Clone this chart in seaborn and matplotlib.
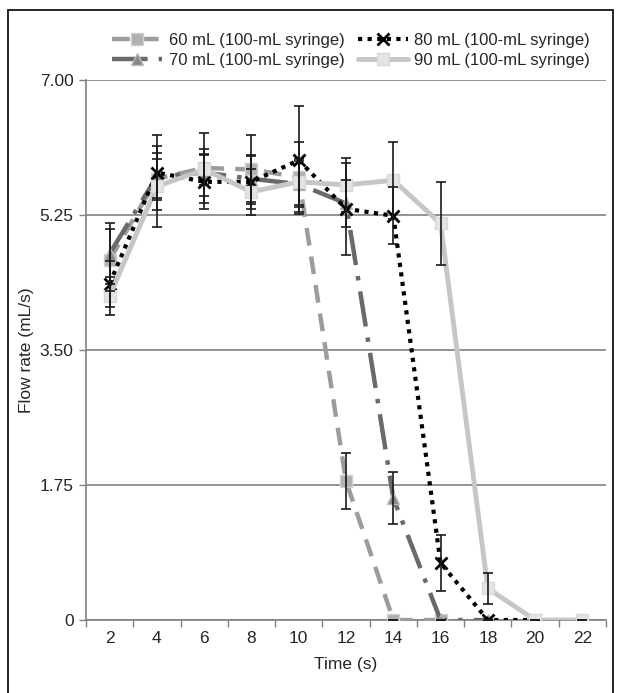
import numpy as np
import pandas as pd
import matplotlib
matplotlib.use("Agg")
import matplotlib.pyplot as plt
import seaborn as sns
from matplotlib.patches import Rectangle

time = [2, 4, 6, 8, 10, 12, 14, 16, 18, 20, 22]
nan = np.nan
flow_60 = [4.67, 5.72, 5.86, 5.84, 5.74, 1.80, 0.0, 0.0, nan, nan, nan]
flow_70 = [4.75, 5.75, 5.80, 5.72, 5.65, 5.40, 1.58, 0.0, 0.0, nan, nan]
flow_80 = [4.36, 5.80, 5.68, 5.68, 5.96, 5.33, 5.24, 0.74, 0.0, 0.0, nan]
flow_90 = [4.20, 5.62, 5.84, 5.55, 5.68, 5.64, 5.70, 5.14, 0.41, 0.0, 0.0]
err_60 = [0.40, 0.25, 0.45, 0.45, 0.45, 0.36, 0, 0, nan, nan, nan]
err_70 = [0.40, 0.30, 0.30, 0.30, 0.30, 0.30, 0.34, 0, 0, nan, nan]
err_80 = [0.30, 0.49, 0.35, 0.35, 0.70, 0.60, 0.37, 0.36, 0, 0, nan]
err_90 = [0.25, 0.53, 0.20, 0.30, 0.30, 0.35, 0.50, 0.54, 0.20, 0, 0]
labels = ["60 mL (100-mL syringe)", "70 mL (100-mL syringe)",
          "80 mL (100-mL syringe)", "90 mL (100-mL syringe)"]
y_ticks = [0, 1.75, 3.50, 5.25, 7.00]
y_ticklabels = ["0", "1.75", "3.50", "5.25", "7.00"]

sns.set_theme(style="white")
plt.rcParams['font.family'] = ['Liberation Sans', 'DejaVu Sans']

fig = plt.figure(figsize=(6.21, 6.93), dpi=100)
ax = fig.add_axes([0.1385, 0.1053, 0.8374, 0.7793])

series = [flow_60, flow_70, flow_80, flow_90]
errs = [err_60, err_70, err_80, err_90]
colors = ["#9c9c9c", "#6a6a6a", "#000000", "#c6c6c6"]
markers = ["s", "^", "x", "s"]
mfc = ["#b0b0b0", "#888888", "#000000", "#e4e4e4"]
mec = ["#d0d0d0", "#bbbbbb", "#000000", "#d8d8d8"]
mew = [1.0, 1.0, 2.0, 1.0]
dashes = [(4, 2.5), (8, 2.5, 1, 2.5), (1, 1.3), ""]
lws = [3.2, 3.2, 3.0, 3.5]

for vals, err, col, mk, fc, ec, ew, ds, lw, lab in zip(series, errs, colors, markers, mfc, mec, mew,
                                                      dashes, lws, labels):
    df = pd.DataFrame({"time": time, "flow": vals}).dropna()
    ax.errorbar(df["time"], df["flow"], yerr=np.array(err)[~np.isnan(vals)],
                fmt="none", ecolor="#1a1a1a", elinewidth=1.2, capsize=3.5,
                capthick=1.2, zorder=4)
    sns.lineplot(data=df, x="time", y="flow", ax=ax, color=col, lw=lw,
                 marker=mk, markersize=8, markerfacecolor=fc,
                 markeredgecolor=ec, markeredgewidth=ew,
                 label=lab, zorder=3, dashes=False)
    line = ax.get_lines()[-1]
    if ds:
        line.set_dashes(ds)
        line.set_dash_capstyle("butt")

ax.set_xlim(1, 23)
ax.set_ylim(0, 7)
ax.set_xticks(time)
ax.set_xticklabels([str(t) for t in time], fontsize=12.5)
ax.set_xticks(np.arange(1, 24, 2), minor=True)
ax.tick_params(axis="x", which="major", length=0, pad=8)
ax.tick_params(axis="x", which="minor", length=5, width=1, color="#808080", direction="out", bottom=True)
ax.set_yticks(y_ticks)
ax.set_yticklabels(y_ticklabels, fontsize=12.5)
ax.tick_params(axis="y", which="major", length=5, width=1, color="#808080", direction="out", left=True, pad=4)
ax.grid(axis="y", color="#808080", lw=1.2)
ax.grid(axis="x", visible=False)
ax.set_axisbelow(True)
for s in ["top", "right"]:
    ax.spines[s].set_visible(False)
for s in ["left", "bottom"]:
    ax.spines[s].set_color("#808080")
    ax.spines[s].set_linewidth(1.2)
ax.set_xlabel("Time (s)", fontsize=12.5, labelpad=8)
ax.set_ylabel("Flow rate (mL/s)", fontsize=12.5, labelpad=4)

handles, labs = ax.get_legend_handles_labels()
leg = ax.legend(handles, labs, ncol=2,
                loc="lower center", bbox_to_anchor=(0.51, 1.0), frameon=False,
                fontsize=12, handlelength=3.0, columnspacing=0.8,
                handletextpad=0.4, labelspacing=0.3, borderaxespad=0.3)

fig.patches.append(Rectangle((8 / 621, -0.01), (613 - 8) / 621, (693 - 10) / 693 + 0.01,
                             transform=fig.transFigure, fill=False,
                             edgecolor="black", lw=1.2))

fig.savefig("out.png", dpi=100)
